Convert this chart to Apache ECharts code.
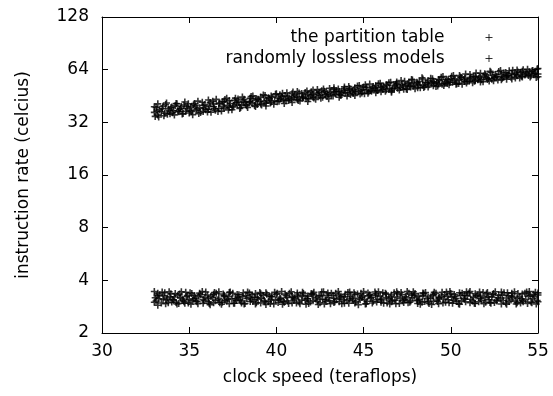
<!DOCTYPE html>
<html><head><meta charset="utf-8">
<script src="https://cdn.jsdelivr.net/npm/echarts@6/dist/echarts.min.js"></script>
<style>html,body{margin:0;padding:0;background:#fff}#c{width:553px;height:396px}</style>
</head><body><div id="c"></div>
<script>
const xTicks = [30, 35, 40, 45, 50, 55];
const yTicks = [2, 4, 8, 16, 32, 64, 128];
const seriesNames = ['the partition table', 'randomly lossless models'];
const partitionTableA = [
[33.0,36.5],[33.1,38.9],[33.2,35.2],[33.3,37.8],[33.5,39.6],[33.6,36.1],[33.8,38.2],[33.9,35.8],[34.1,37.4],[34.2,39.9],
[34.4,36.8],[34.5,38.5],[34.7,40.2],[34.8,37.0],[35.0,36.2],[35.1,39.1],[35.3,41.0],[35.4,37.6],[35.6,38.8],[35.8,36.9],
[35.9,40.4],[36.1,38.0],[36.2,41.5],[36.4,39.3],[36.5,37.5],[36.7,40.8],[36.9,42.1],[37.0,38.6],[37.2,40.0],[37.3,42.6],
[37.5,39.2],[37.7,41.4],[37.8,43.5],[38.0,40.1],[38.1,42.3],[38.3,39.8],[38.5,43.9],[38.6,41.2],[38.8,42.8],[38.9,40.5],
[39.1,44.6],[39.3,42.0],[39.4,41.1],[39.6,43.7],[39.7,45.2],[39.9,42.5],[40.1,44.1],[40.2,46.0],[40.4,43.0],[40.5,45.3],
[40.7,42.7],[40.9,46.6],[41.0,44.4],[41.2,43.2],[41.3,47.1],[41.5,45.0],[41.7,43.8],[41.8,46.3],[42.0,47.8],[42.1,44.6],
[42.3,46.9],[42.5,45.4],[42.6,48.5],[42.8,46.0],[42.9,44.9],[43.1,47.5],[43.3,49.2],[43.4,46.4],[43.6,48.0],[43.7,45.6],
[43.9,49.8],[44.1,47.1],[44.2,48.9],[44.4,46.7],[44.5,50.5],[44.7,48.2],[44.9,47.0],[45.0,51.0],[45.2,49.0],[45.3,47.8],
[45.5,50.3],[45.7,52.0],[45.8,48.6],[46.0,50.9],[46.1,49.4],[46.3,52.6],[46.5,50.0],[46.6,48.4],[46.8,51.7],[46.9,53.4],
[47.1,50.6],[47.3,49.5],[47.4,52.3],[47.6,54.0],[47.7,51.0],[47.9,53.0],[48.1,50.4],[48.2,54.8],[48.4,52.1],[48.5,51.2],
[48.7,55.3],[48.9,53.5],[49.0,51.8],[49.2,54.4],[49.3,56.2],[49.5,52.9],[49.7,55.0],[49.8,53.3],[50.0,57.0],[50.1,54.2],
[50.3,52.8],[50.5,56.0],[50.6,57.7],[50.8,54.8],[50.9,53.7],[51.1,56.7],[51.3,58.4],[51.4,55.4],[51.6,57.2],[51.7,54.5],
[51.9,58.9],[52.1,56.2],[52.2,55.1],[52.4,59.3],[52.5,57.5],[52.7,55.9],[52.9,60.1],[53.0,58.0],[53.2,56.4],[53.3,59.6],
[53.5,61.0],[53.7,57.3],[53.8,59.0],[54.0,61.6],[54.1,58.2],[54.3,60.5],[54.5,62.3],[54.6,59.1],[54.8,61.2],[54.9,57.8],
[55.0,60.4]
];
const partitionTableB = [
[33.05,34.6],[33.2,40.8],[33.4,36.9],[33.55,34.9],[33.7,41.3],[33.85,37.2],[34.0,39.2],[34.15,35.3],[34.3,40.9],[34.45,38.0],
[34.6,35.7],[34.75,41.8],[34.9,39.5],[35.05,37.3],[35.2,35.4],[35.35,39.8],[35.5,42.3],[35.65,36.4],[35.8,39.9],[35.95,37.8],
[36.1,42.9],[36.25,36.6],[36.4,40.7],[36.55,43.3],[36.7,38.4],[36.85,37.1],[37.0,41.9],[37.15,43.9],[37.3,39.0],[37.45,37.8],
[37.6,42.7],[37.75,40.5],[37.9,38.4],[38.05,44.6],[38.2,41.4],[38.35,38.9],[38.5,42.0],[38.65,45.3],[38.8,39.4],[38.95,43.4],
[39.1,40.7],[39.25,45.9],[39.4,39.7],[39.55,44.2],[39.7,41.8],[39.85,40.6],[40.0,46.6],[40.15,42.3],[40.3,44.9],[40.45,41.0],
[40.6,47.2],[40.75,43.9],[40.9,41.6],[41.05,45.8],[41.2,48.0],[41.35,42.4],[41.5,44.1],[41.65,47.4],[41.8,42.1],[41.95,45.5],
[42.1,48.9],[42.25,43.3],[42.4,46.2],[42.55,44.0],[42.7,49.6],[42.85,47.2],[43.0,43.7],[43.15,45.9],[43.3,50.4],[43.45,48.1],
[43.6,44.5],[43.75,47.1],[43.9,51.0],[44.05,45.2],[44.2,49.9],[44.35,48.0],[44.5,45.6],[44.65,51.7],[44.8,46.4],[44.95,49.5],
[45.1,52.4],[45.25,46.9],[45.4,48.7],[45.55,51.2],[45.7,47.3],[45.85,53.1],[46.0,47.8],[46.15,51.5],[46.3,49.2],[46.45,53.8],
[46.6,47.6],[46.75,50.3],[46.9,54.5],[47.05,48.9],[47.2,52.5],[47.35,55.0],[47.5,49.3],[47.65,51.8],[47.8,55.9],[47.95,49.8],
[48.1,53.7],[48.25,50.5],[48.4,56.6],[48.55,53.9],[48.7,50.9],[48.85,57.1],[49.0,54.6],[49.15,51.3],[49.3,53.0],[49.45,58.0],
[49.6,51.9],[49.75,56.4],[49.9,52.5],[50.05,58.7],[50.2,55.6],[50.35,53.1],[50.5,59.2],[50.65,52.8],[50.8,57.3],[50.95,55.0],
[51.1,60.0],[51.25,53.9],[51.4,58.6],[51.55,56.1],[51.7,61.0],[51.85,54.6],[52.0,59.8],[52.15,57.0],[52.3,61.9],[52.45,55.3],
[52.6,58.3],[52.75,62.5],[52.9,56.0],[53.05,61.2],[53.2,58.7],[53.35,63.1],[53.5,56.6],[53.65,60.2],[53.8,63.8],[53.95,57.4],
[54.1,62.6],[54.25,59.7],[54.4,64.4],[54.55,58.1],[54.7,63.3],[54.85,60.8],[55.0,65.0]
];
const partitionTableC = [
[33.0,39.3],[33.15,37.1],[33.25,34.3],[33.45,38.4],[33.65,40.5],[33.75,35.6],[33.95,38.8],[34.05,36.3],[34.25,41.0],[34.35,37.2],
[34.55,39.4],[34.65,35.9],[34.85,38.3],[34.95,40.9],[35.15,36.9],[35.25,40.3],[35.45,38.2],[35.55,35.9],[35.75,41.7],[35.85,38.5],
[36.05,36.7],[36.15,39.6],[36.35,42.3],[36.45,38.3],[36.65,36.9],[36.75,41.3],[36.95,39.5],[37.05,43.2],[37.25,37.7],[37.35,41.0],
[37.55,39.9],[37.65,44.0],[37.85,41.7],[37.95,38.9],[38.15,43.3],[38.25,40.3],[38.45,41.9],[38.55,44.9],[38.75,40.0],[38.85,43.6],
[39.05,42.3],[39.15,40.2],[39.35,45.5],[39.45,42.8],[39.65,41.3],[39.75,44.5],[39.95,46.3],[40.05,42.0],[40.25,43.6],[40.35,46.9],
[40.55,42.5],[40.65,45.0],[40.85,43.3],[40.95,47.7],[41.15,44.8],[41.25,42.7],[41.45,46.7],[41.55,44.3],[41.75,48.4],[41.85,43.6],
[42.05,46.1],[42.15,44.1],[42.35,49.3],[42.45,47.5],[42.65,44.5],[42.75,48.2],[42.95,46.6],[43.05,50.0],[43.25,45.3],[43.35,47.9],
[43.55,49.6],[43.65,46.0],[43.85,48.6],[43.95,47.4],[44.15,51.3],[44.25,46.1],[44.45,49.2],[44.55,47.7],[44.75,52.0],[44.85,48.8],
[45.05,46.6],[45.15,50.8],[45.35,53.0],[45.45,48.1],[45.65,50.1],[45.75,48.9],[45.95,53.6],[46.05,50.4],[46.25,48.1],[46.35,52.0],
[46.55,54.3],[46.65,49.6],[46.85,52.8],[46.95,50.1],[47.15,55.5],[47.25,51.6],[47.45,49.7],[47.55,53.2],[47.75,56.3],[47.85,51.4],
[48.05,54.3],[48.15,52.3],[48.35,57.5],[48.45,50.6],[48.65,54.0],[48.75,52.5],[48.95,56.8],[49.05,53.8],[49.25,51.7],[49.35,55.6],
[49.55,58.4],[49.65,53.6],[49.85,56.0],[49.95,54.1],[50.15,59.3],[50.25,56.8],[50.45,53.4],[50.55,58.1],[50.75,56.2],[50.85,60.4],
[51.05,55.0],[51.15,57.9],[51.35,54.9],[51.45,61.3],[51.65,58.0],[51.75,56.0],[51.95,60.6],[52.05,57.6],[52.25,62.6],[52.35,56.5],
[52.55,60.1],[52.65,58.6],[52.85,63.2],[52.95,57.2],[53.15,61.6],[53.25,59.3],[53.45,57.9],[53.55,63.5],[53.75,60.3],[53.85,62.1],
[54.05,58.7],[54.15,64.0],[54.35,61.3],[54.45,59.2],[54.65,62.8],[54.75,60.0],[54.95,64.6],[55.0,58.3]
];
const losslessModelsA = [
[33.0,3.45],[33.1,3.05],[33.2,2.88],[33.3,3.30],[33.5,3.12],[33.6,3.40],[33.8,2.98],[33.9,3.22],[34.1,3.08],[34.2,3.36],
[34.4,2.95],[34.5,3.18],[34.7,3.02],[34.8,3.42],[35.0,3.10],[35.1,2.92],[35.3,3.28],[35.4,3.05],[35.6,3.38],[35.8,2.96],
[35.9,3.20],[36.1,3.14],[36.2,2.90],[36.4,3.33],[36.5,3.06],[36.7,3.44],[36.9,3.00],[37.0,3.25],[37.2,3.12],[37.3,2.94],
[37.5,3.37],[37.7,3.08],[37.8,3.21],[38.0,2.97],[38.1,3.40],[38.3,3.15],[38.5,3.03],[38.6,3.31],[38.8,2.93],[38.9,3.19],
[39.1,3.35],[39.3,3.07],[39.4,2.91],[39.6,3.26],[39.7,3.11],[39.9,3.42],[40.1,2.99],[40.2,3.17],[40.4,3.04],[40.5,3.34],
[40.7,2.95],[40.9,3.23],[41.0,3.09],[41.2,3.39],[41.3,3.01],[41.5,3.27],[41.7,2.92],[41.8,3.14],[42.0,3.36],[42.1,3.06],
[42.3,3.20],[42.5,2.98],[42.6,3.43],[42.8,3.10],[42.9,3.29],[43.1,2.94],[43.3,3.16],[43.4,3.38],[43.6,3.02],[43.7,3.24],
[43.9,2.96],[44.1,3.41],[44.2,3.13],[44.4,3.07],[44.5,3.32],[44.7,2.90],[44.9,3.19],[45.0,3.45],[45.2,3.04],[45.3,3.26],
[45.5,2.97],[45.7,3.35],[45.8,3.11],[46.0,3.00],[46.1,3.40],[46.3,3.18],[46.5,2.93],[46.6,3.30],[46.8,3.08],[46.9,3.44],
[47.1,3.15],[47.3,2.99],[47.4,3.22],[47.6,3.37],[47.7,3.05],[47.9,3.28],[48.1,2.95],[48.2,3.12],[48.4,3.39],[48.5,3.03],
[48.7,3.21],[48.9,2.91],[49.0,3.33],[49.2,3.09],[49.3,3.17],[49.5,3.42],[49.7,3.00],[49.8,3.25],[50.0,3.36],[50.1,2.96],
[50.3,3.14],[50.5,3.40],[50.6,3.06],[50.8,3.29],[50.9,3.44],[51.1,2.98],[51.3,3.20],[51.4,3.35],[51.6,3.02],[51.7,3.24],
[51.9,2.94],[52.1,3.41],[52.2,3.10],[52.4,3.31],[52.5,2.99],[52.7,3.18],[52.9,3.43],[53.0,3.07],[53.2,2.92],[53.3,3.27],
[53.5,3.38],[53.7,3.04],[53.8,3.16],[54.0,2.97],[54.1,3.34],[54.3,3.11],[54.5,3.45],[54.6,3.01],[54.8,3.23],[54.9,2.93],
[55.0,3.30]
];
const losslessModelsB = [
[33.05,3.18],[33.2,3.38],[33.4,2.97],[33.55,3.26],[33.7,3.09],[33.85,3.44],[34.0,3.01],[34.15,3.21],[34.3,2.93],[34.45,3.34],
[34.6,3.13],[34.75,2.96],[34.9,3.27],[35.05,3.40],[35.2,3.07],[35.35,3.17],[35.5,2.94],[35.65,3.31],[35.8,3.11],[35.95,3.43],
[36.1,3.02],[36.25,3.24],[36.4,2.98],[36.55,3.37],[36.7,3.16],[36.85,2.92],[37.0,3.29],[37.15,3.05],[37.3,3.41],[37.45,3.14],
[37.6,2.96],[37.75,3.32],[37.9,3.09],[38.05,3.23],[38.2,2.95],[38.35,3.43],[38.5,3.19],[38.65,3.04],[38.8,3.36],[38.95,3.12],
[39.1,2.97],[39.25,3.28],[39.4,3.40],[39.55,3.03],[39.7,3.22],[39.85,2.93],[40.0,3.33],[40.15,3.10],[40.3,3.45],[40.45,3.00],
[40.6,3.20],[40.75,3.38],[40.9,2.97],[41.05,3.15],[41.2,3.30],[41.35,2.94],[41.5,3.42],[41.65,3.08],[41.8,3.25],[41.95,3.01],
[42.1,3.35],[42.25,3.13],[42.4,2.91],[42.55,3.27],[42.7,3.44],[42.85,3.03],[43.0,3.19],[43.15,3.37],[43.3,2.99],[43.45,3.12],
[43.6,3.30],[43.75,2.94],[43.9,3.23],[44.05,3.06],[44.2,3.43],[44.35,3.15],[44.5,2.97],[44.65,3.34],[44.8,3.10],[44.95,3.26],
[45.1,2.93],[45.25,3.39],[45.4,3.17],[45.55,3.04],[45.7,3.28],[45.85,3.44],[46.0,3.09],[46.15,2.96],[46.3,3.33],[46.45,3.14],
[46.6,3.02],[46.75,3.40],[46.9,3.21],[47.05,2.95],[47.2,3.31],[47.35,3.10],[47.5,3.45],[47.65,3.00],[47.8,3.18],[47.95,3.36],
[48.1,3.06],[48.25,2.92],[48.4,3.27],[48.55,3.41],[48.7,3.01],[48.85,3.16],[49.0,3.04],[49.15,3.37],[49.3,2.94],[49.45,3.24],
[49.6,3.13],[49.75,3.43],[49.9,2.98],[50.05,3.20],[50.2,3.32],[50.35,3.03],[50.5,2.92],[50.65,3.38],[50.8,3.12],[50.95,3.26],
[51.1,3.45],[51.25,3.05],[51.4,2.95],[51.55,3.30],[51.7,3.15],[51.85,3.41],[52.0,3.00],[52.15,3.22],[52.3,2.96],[52.45,3.36],
[52.6,3.08],[52.75,3.29],[52.9,2.93],[53.05,3.40],[53.2,3.17],[53.35,3.03],[53.5,3.25],[53.65,3.44],[53.8,2.98],[53.95,3.21],
[54.1,3.06],[54.25,3.38],[54.4,2.95],[54.55,3.28],[54.7,3.14],[54.85,3.42],[55.0,3.02]
];
const losslessModelsC = [
[33.0,3.00],[33.15,3.27],[33.25,3.14],[33.45,3.43],[33.65,2.94],[33.75,3.17],[33.95,3.35],[34.05,3.11],[34.25,2.99],[34.35,3.29],
[34.55,3.44],[34.65,3.07],[34.85,3.23],[34.95,2.97],[35.15,3.36],[35.25,3.14],[35.45,3.02],[35.55,3.24],[35.75,3.45],[35.85,3.06],
[36.05,3.30],[36.15,2.95],[36.35,3.19],[36.45,3.41],[36.65,3.10],[36.75,2.98],[36.95,3.34],[37.05,3.08],[37.25,3.22],[37.35,3.43],
[37.55,2.96],[37.65,3.15],[37.85,3.31],[37.95,3.05],[38.15,2.93],[38.25,3.27],[38.45,3.39],[38.55,3.11],[38.75,3.20],[38.85,2.98],
[39.05,3.41],[39.15,3.16],[39.35,3.02],[39.45,3.33],[39.65,2.95],[39.75,3.24],[39.95,3.08],[40.05,3.38],[40.25,3.14],[40.35,2.92],
[40.55,3.28],[40.65,3.05],[40.85,3.44],[40.95,3.18],[41.15,2.97],[41.25,3.22],[41.45,3.09],[41.55,3.36],[41.75,3.15],[41.85,2.95],
[42.05,3.31],[42.15,3.42],[42.35,3.04],[42.45,3.26],[42.65,3.12],[42.75,2.93],[42.95,3.39],[43.05,3.07],[43.25,3.29],[43.35,3.02],
[43.55,3.45],[43.65,3.17],[43.85,3.10],[43.95,3.33],[44.15,2.96],[44.25,3.23],[44.45,3.40],[44.55,3.02],[44.75,3.16],[44.85,3.37],
[45.05,3.11],[45.15,2.94],[45.35,3.31],[45.45,3.20],[45.65,3.43],[45.75,3.01],[45.95,3.25],[46.05,3.13],[46.25,3.38],[46.35,2.97],
[46.55,3.22],[46.65,3.08],[46.85,2.94],[46.95,3.35],[47.15,3.41],[47.25,3.06],[47.45,3.17],[47.55,2.98],[47.75,3.30],[47.85,3.44],
[48.05,3.09],[48.15,3.24],[48.35,3.00],[48.45,3.35],[48.65,3.14],[48.75,2.95],[48.95,3.27],[49.05,3.42],[49.25,3.03],[49.35,3.19],
[49.55,2.97],[49.65,3.32],[49.85,3.10],[49.95,3.45],[50.15,3.07],[50.25,3.23],[50.45,2.94],[50.55,3.29],[50.75,3.16],[50.85,3.02],
[51.05,3.39],[51.15,3.12],[51.35,2.96],[51.45,3.26],[51.65,3.43],[51.75,3.08],[51.95,3.18],[52.05,3.35],[52.25,2.99],[52.35,3.21],
[52.55,3.44],[52.65,3.05],[52.85,3.13],[52.95,3.30],[53.15,2.97],[53.25,3.40],[53.45,3.09],[53.55,3.20],[53.75,2.93],[53.85,3.36],
[54.05,3.14],[54.15,3.02],[54.35,3.43],[54.45,3.25],[54.65,2.98],[54.75,3.33],[54.95,3.07],[55.0,3.39]
];

const FONT = 'DejaVu Sans';
const plus = 'path://M3,0L3,6M0,3L6,3';
const chart = echarts.init(document.getElementById('c'), null, {renderer: 'canvas'});
const axisCommon = {
  axisLine: {show: true, lineStyle: {color: '#000', width: 1}},
  axisTick: {show: true, inside: true, length: 6, lineStyle: {color: '#000'}},
  splitLine: {show: false},
  minorTick: {show: false}
};
const markStyle = {color: 'none', borderColor: '#000', borderWidth: 1.6};
const legendMark = {color: 'none', borderColor: '#000', borderWidth: 1};
chart.setOption({
  animation: false,
  backgroundColor: '#fff',
  grid: {left: 102, right: 15, top: 17, bottom: 63, containLabel: false},
  legend: {
    orient: 'vertical', right: 53, top: 24, align: 'right', itemGap: 4,
    itemWidth: 7, itemHeight: 7,
    textStyle: {fontFamily: FONT, fontSize: 17, color: '#000', padding: [0, 36, 0, 0]},
    data: seriesNames.map(n => ({name: n, icon: plus, itemStyle: legendMark}))
  },
  xAxis: [
    Object.assign({type: 'value', min: xTicks[0], max: xTicks[xTicks.length - 1], interval: 5,
      name: 'clock speed (teraflops)', nameLocation: 'middle', nameGap: 36,
      nameTextStyle: {fontFamily: FONT, fontSize: 17, color: '#000'},
      axisLabel: {fontFamily: FONT, fontSize: 17, color: '#000', margin: 10}}, axisCommon),
    Object.assign({type: 'value', position: 'top', min: xTicks[0], max: xTicks[xTicks.length - 1], interval: 5,
      axisLabel: {show: false}}, axisCommon)
  ],
  yAxis: [
    Object.assign({type: 'log', logBase: 2, min: yTicks[0], max: yTicks[yTicks.length - 1],
      name: 'instruction rate (celcius)', nameLocation: 'middle', nameGap: 70, nameRotate: 90,
      nameTextStyle: {fontFamily: FONT, fontSize: 17, color: '#000'},
      axisLabel: {fontFamily: FONT, fontSize: 17, color: '#000', margin: 13}}, axisCommon),
    Object.assign({type: 'log', logBase: 2, position: 'right', min: yTicks[0], max: yTicks[yTicks.length - 1],
      axisLabel: {show: false}}, axisCommon)
  ],
  series: [
    {name: seriesNames[0], type: 'scatter', data: partitionTableA.concat(partitionTableB, partitionTableC),
     symbol: plus, symbolSize: 7, itemStyle: markStyle},
    {name: seriesNames[1], type: 'scatter', data: losslessModelsA.concat(losslessModelsB, losslessModelsC),
     symbol: plus, symbolSize: 7, itemStyle: markStyle}
  ]
});
</script></body></html>
